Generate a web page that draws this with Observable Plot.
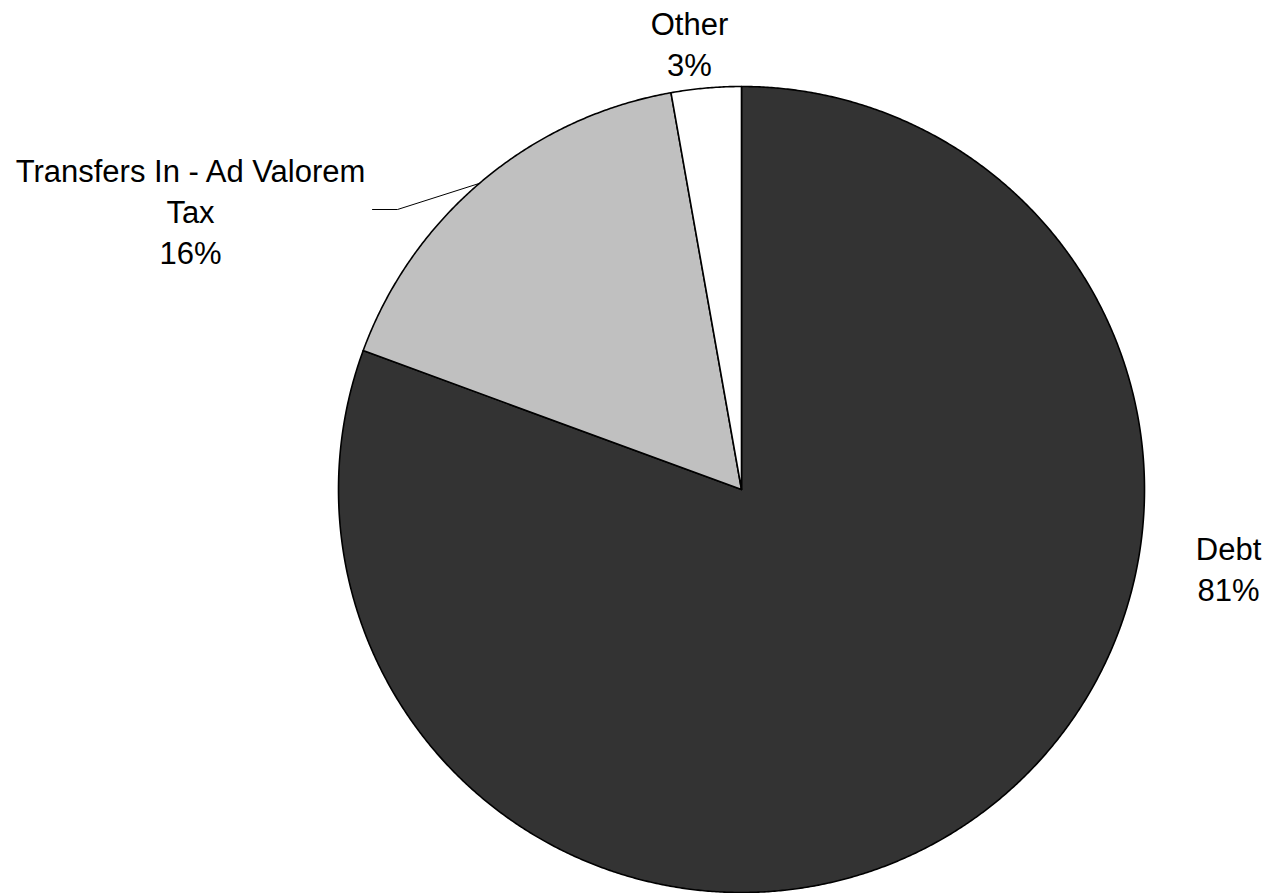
<!DOCTYPE html>
<html>
<head>
<meta charset="utf-8">
<script src="https://cdn.jsdelivr.net/npm/d3@7"></script>
<script src="https://cdn.jsdelivr.net/npm/@observablehq/plot@0.6"></script>
<style>
  html, body { margin: 0; padding: 0; background: #fff; }
  #chart svg { display: block; }
</style>
</head>
<body>
<div id="chart"></div>
<script>
// ---- data ----
const categories = ["Debt", "Transfers In - Ad Valorem Tax", "Other"];
const values = [80.6, 16.6, 2.8];
const labels = ["Debt\n81%", "Transfers In - Ad Valorem\nTax\n16%", "Other\n3%"];

// ---- style / layout ----
const colors = ["#333333", "#c0c0c0", "#ffffff"];
const W = 1271, H = 893;
const cx = 741, cy = 489, R = 403;
// label anchor positions in pixels (center of text block)
const labelPos = [[1228, 567], [190, 209], [689, 42]];

const total = d3.sum(values);
const slices = [];
let start = 0;
values.forEach((v, i) => {
  const end = start + v / total * 2 * Math.PI;
  const n = Math.max(2, Math.ceil((end - start) / 0.005));
  const pts = [{x: 0, y: 0}];
  for (let j = 0; j <= n; j++) {
    const a = start + (end - start) * j / n;
    pts.push({x: Math.sin(a), y: Math.cos(a)});
  }
  pts.push({x: 0, y: 0});
  slices.push({pts, color: colors[i]});
  start = end;
});

const toX = px => (px - cx) / R;
const toY = py => (cy - py) / R;

const labelData = labels.map((t, i) => ({text: t, x: toX(labelPos[i][0]), y: toY(labelPos[i][1])}));

// leader line for Transfers label
const edgeA = 5.575; // angle (rad, clockwise from north) where the leader touches the slice edge
const leader = [
  {x: toX(372), y: toY(209)},
  {x: toX(397), y: toY(209)},
  {x: Math.sin(edgeA), y: Math.cos(edgeA)}
];

const marks = [];
slices.forEach(s => {
  marks.push(Plot.line(s.pts, {x: "x", y: "y", fill: s.color, stroke: "#000", strokeWidth: 1.6, strokeLinejoin: "round", curve: "linear"}));
});
marks.push(Plot.line(leader, {x: "x", y: "y", stroke: "#000", strokeWidth: 1}));
marks.push(Plot.text(labelData, {x: "x", y: "y", text: "text", fontSize: 31, lineHeight: 1.32, fill: "#000", textAnchor: "middle", frameAnchor: "middle"}));

const plot = Plot.plot({
  width: W,
  height: H,
  margin: 0,
  style: {fontFamily: "'Liberation Sans', Arial, sans-serif", background: "#fff"},
  x: {domain: [toX(0), toX(W)], range: [0, W], axis: null},
  y: {domain: [toY(H), toY(0)], range: [H, 0], axis: null},
  marks
});
document.getElementById("chart").appendChild(plot);
</script>
</body>
</html>
